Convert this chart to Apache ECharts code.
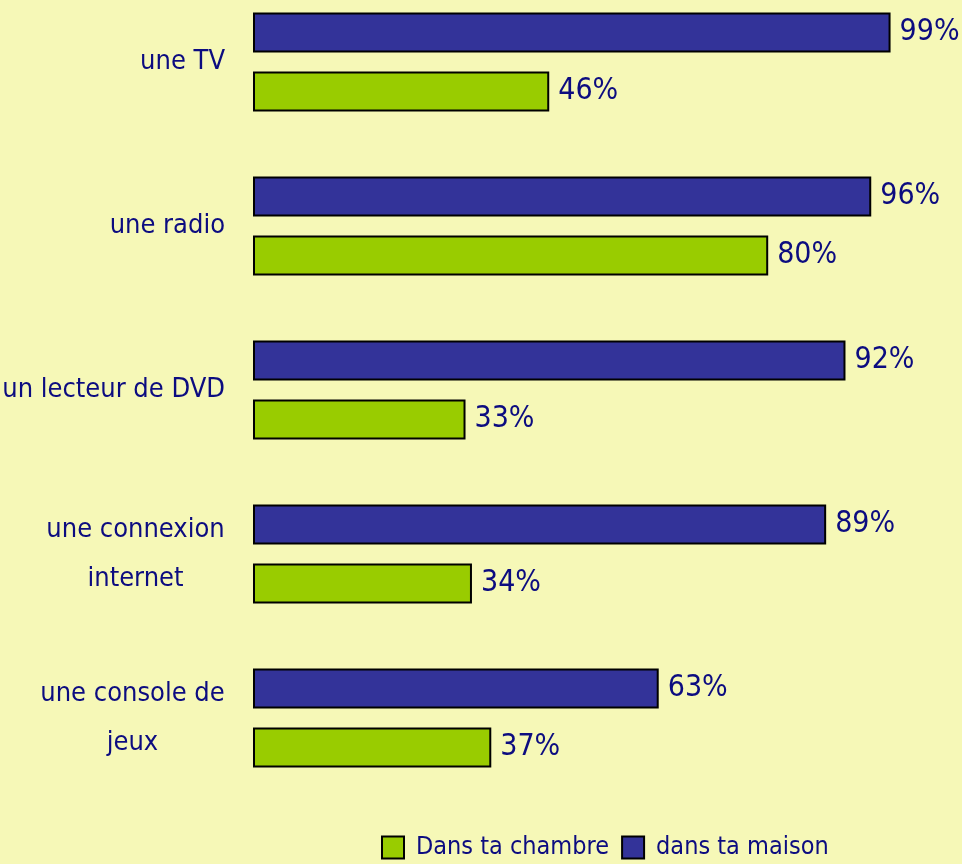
<!DOCTYPE html>
<html>
<head>
<meta charset="utf-8">
<script src="https://cdn.jsdelivr.net/npm/echarts@6/dist/echarts.min.js"></script>
<style>
  html, body { margin: 0; padding: 0; background: #f6f8b7; }
  #chart { width: 962px; height: 864px; }
</style>
</head>
<body>
<div id="chart"></div>
<script>
const categories = ['une TV', 'une radio', 'un lecteur de DVD', 'une connexion\ninternet', 'une console de\njeux']
const chambreValues = [46, 80, 33, 34, 37]
const maisonValues = [99, 96, 92, 89, 63]
const seriesNames = ['Dans ta chambre', 'dans ta maison']

const FONT = '"Liberation Sans Narrow", "DejaVu Sans Condensed", sans-serif'
const CAT_SIZE = 27
const VAL_SIZE = 30
const LEG_SIZE = 25
const TEXT_COLOR = '#0c0c80'

// largeur du texte pour centrer les libellés sur deux lignes
const ctx = document.createElement('canvas').getContext('2d')
ctx.font = CAT_SIZE + 'px ' + FONT
const textWidth = (s) => Math.ceil(ctx.measureText(s).width)

const chart = echarts.init(document.getElementById('chart'))

const valueLabel = {
  show: true,
  position: 'right',
  distance: 9,
  formatter: '{c}%',
  fontSize: VAL_SIZE,
  color: TEXT_COLOR,
  fontFamily: FONT
}

const option = {
  backgroundColor: '#f6f8b7',
  animation: false,
  textStyle: { fontFamily: FONT },
  grid: { left: 253, right: 65, top: -20, height: 820, outerBoundsMode: 'none' },
  legend: {
    top: 830,
    left: 376,
    itemWidth: 22,
    itemHeight: 22,
    itemGap: 12,
    icon: 'rect',
    itemStyle: { borderColor: '#000', borderWidth: 2 },
    textStyle: { fontSize: LEG_SIZE, color: TEXT_COLOR, fontFamily: FONT, padding: [0, 0, 0, 7] },
    data: seriesNames
  },
  xAxis: {
    type: 'value',
    min: 0,
    max: 100,
    show: false
  },
  yAxis: {
    type: 'category',
    inverse: true,
    data: categories,
    axisLine: { show: false },
    axisTick: { show: false },
    splitLine: { show: false },
    axisLabel: {
      margin: 28,
      fontSize: CAT_SIZE,
      color: TEXT_COLOR,
      fontFamily: FONT,
      lineHeight: 49,
      formatter: (v) => {
        const lines = v.split('\n')
        if (lines.length === 1) return v
        const w = Math.max(...lines.map(textWidth))
        return lines.map(l => '{c' + w + '|' + l + '}').join('\n')
      },
      rich: (() => {
        const r = {}
        categories.forEach(c => {
          const lines = c.split('\n')
          if (lines.length > 1) {
            const w = Math.max(...lines.map(textWidth))
            r['c' + w] = { width: w, align: 'center', fontSize: CAT_SIZE, color: TEXT_COLOR, fontFamily: FONT, lineHeight: 49 }
          }
        })
        return r
      })()
    }
  },
  series: [
    {
      name: seriesNames[1],
      type: 'bar',
      data: maisonValues,
      barWidth: 40,
      barGap: '47%',
      itemStyle: { color: '#333399', borderColor: '#000', borderWidth: 2 },
      label: valueLabel
    },
    {
      name: seriesNames[0],
      type: 'bar',
      data: chambreValues,
      barWidth: 40,
      barGap: '47%',
      itemStyle: { color: '#99cc00', borderColor: '#000', borderWidth: 2 },
      label: valueLabel
    }
  ]
}

chart.setOption(option)
</script>
</body>
</html>
